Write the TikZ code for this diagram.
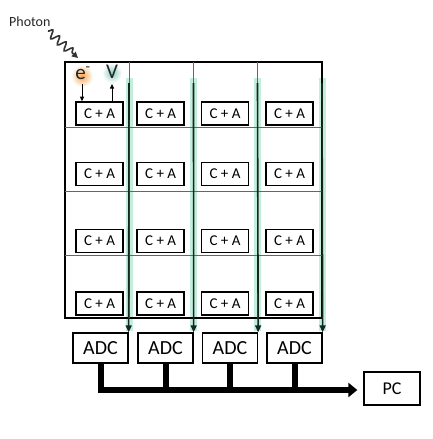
\documentclass[tikz,border=0pt]{standalone}
\usepackage{fontspec}
\setmainfont{Carlito}
\usetikzlibrary{arrows.meta,decorations.pathmorphing,calc}
\definecolor{glowteal}{RGB}{195,238,222}
\definecolor{darkline}{RGB}{20,40,32}
\definecolor{glowor}{RGB}{245,165,80}
\tikzset{
  cabox/.style={draw=black,line width=1.6pt,minimum width=47pt,minimum height=23pt,inner sep=0pt,font=\fontsize{15}{16}\selectfont},
  adcbox/.style={draw=black,line width=1.3pt,minimum width=55pt,minimum height=30pt,inner sep=0pt,font=\fontsize{20}{21}\selectfont},
  gridline/.style={draw=black!60,line width=0.8pt},
  glow/.style={glowteal,line width=7pt},
  sigline/.style={darkline,line width=1.6pt},
  bus/.style={line width=6pt,black},
}
\begin{document}
\begin{tikzpicture}[x=1pt,y=-1pt]
\useasboundingbox (0,0) rectangle (432,439);
% glows
\shade[inner color=glowor,outer color=white] (82,76) circle (11);
\shade[inner color=glowteal!70!teal,outer color=white] (112,73) circle (10);
% green signal lines (glow)
\foreach \x in {129,193.5,257.5,322}{
  \draw[glow] (\x,78) -- (\x,331);
}
% grid
\node[draw=black,line width=1.3pt,minimum width=257pt,minimum height=256pt,inner sep=0pt] (grid) at (193.5,190) {};
\foreach \x in {129,193.5,257.5}{
  \draw[gridline] (\x,62) -- (\x,318);
}
\foreach \y in {127.5,191,255}{
  \draw[gridline] (65,\y) -- (322,\y);
}
% C+A boxes
\foreach \r/\yc in {1/113.5,2/174,3/241,4/303.5}{
  \foreach \c/\xc in {1/99.5,2/160.7,3/225,4/289.5}{
    \node[cabox] (ca\r\c) at (\xc,\yc) {C + A};
  }
}
% ADC boxes
\node[adcbox] (adc1) at (100.5,348) {ADC};
\node[adcbox] (adc2) at (165.5,348) {ADC};
\node[adcbox] (adc3) at (230,348) {ADC};
\node[adcbox] (adc4) at (294.5,348) {ADC};
% PC
\node[draw=black,line width=1.3pt,minimum width=56pt,minimum height=33pt,inner sep=0pt,font=\fontsize{18}{19}\selectfont] (pc) at (392,388.5) {PC};
% signal lines
\foreach \i/\x in {1/129,2/193.5,3/257.5,4/322}{
  \coordinate (top\i) at (\x,83);
  \draw[sigline,-{Triangle[length=7pt,width=6pt]}] (top\i) -- (adc\i.north east);
}
% e- and V
\node[font=\fontsize{21}{22}\selectfont,text=black!85,inner sep=0pt] (eminus) at (83,73) {e\textsuperscript{-}};
\node[font=\fontsize{21}{22}\selectfont,text=black!85,inner sep=0pt] (volt) at (112,72) {V};
\coordinate (es) at (82,84);
\draw[line width=0.9pt,-{Triangle[length=4.5pt,width=4pt]}] (es) -- (es |- ca11.north);
\coordinate (vb) at (112,102);
\draw[line width=0.9pt,-{Triangle[length=4.5pt,width=4pt]}] (ca11.north -| vb) -- (112,84);
% bus
\coordinate (busl) at (100.5,390);
\draw[bus,-{Triangle[length=9pt,width=14pt]},shorten >=6pt] (adc1.south) -- (busl) -- (busl -| pc.west);
\foreach \i in {2,3,4}{
  \draw[bus] (adc\i.south) -- (adc\i.south |- busl);
}
% photon
\node[font=\fontsize{14}{15}\selectfont,text=black!85,anchor=west,inner sep=0pt] (photon) at (9,22) {Photon};
\coordinate (ph1) at (48,31);
\coordinate (ph2) at (78,58);
\draw[line width=1.6pt,black!80,decorate,decoration={snake,amplitude=4pt,segment length=9pt,post length=5pt},-{Triangle[length=6pt,width=6pt]}] (ph1) -- (ph2);
\end{tikzpicture}
\end{document}
